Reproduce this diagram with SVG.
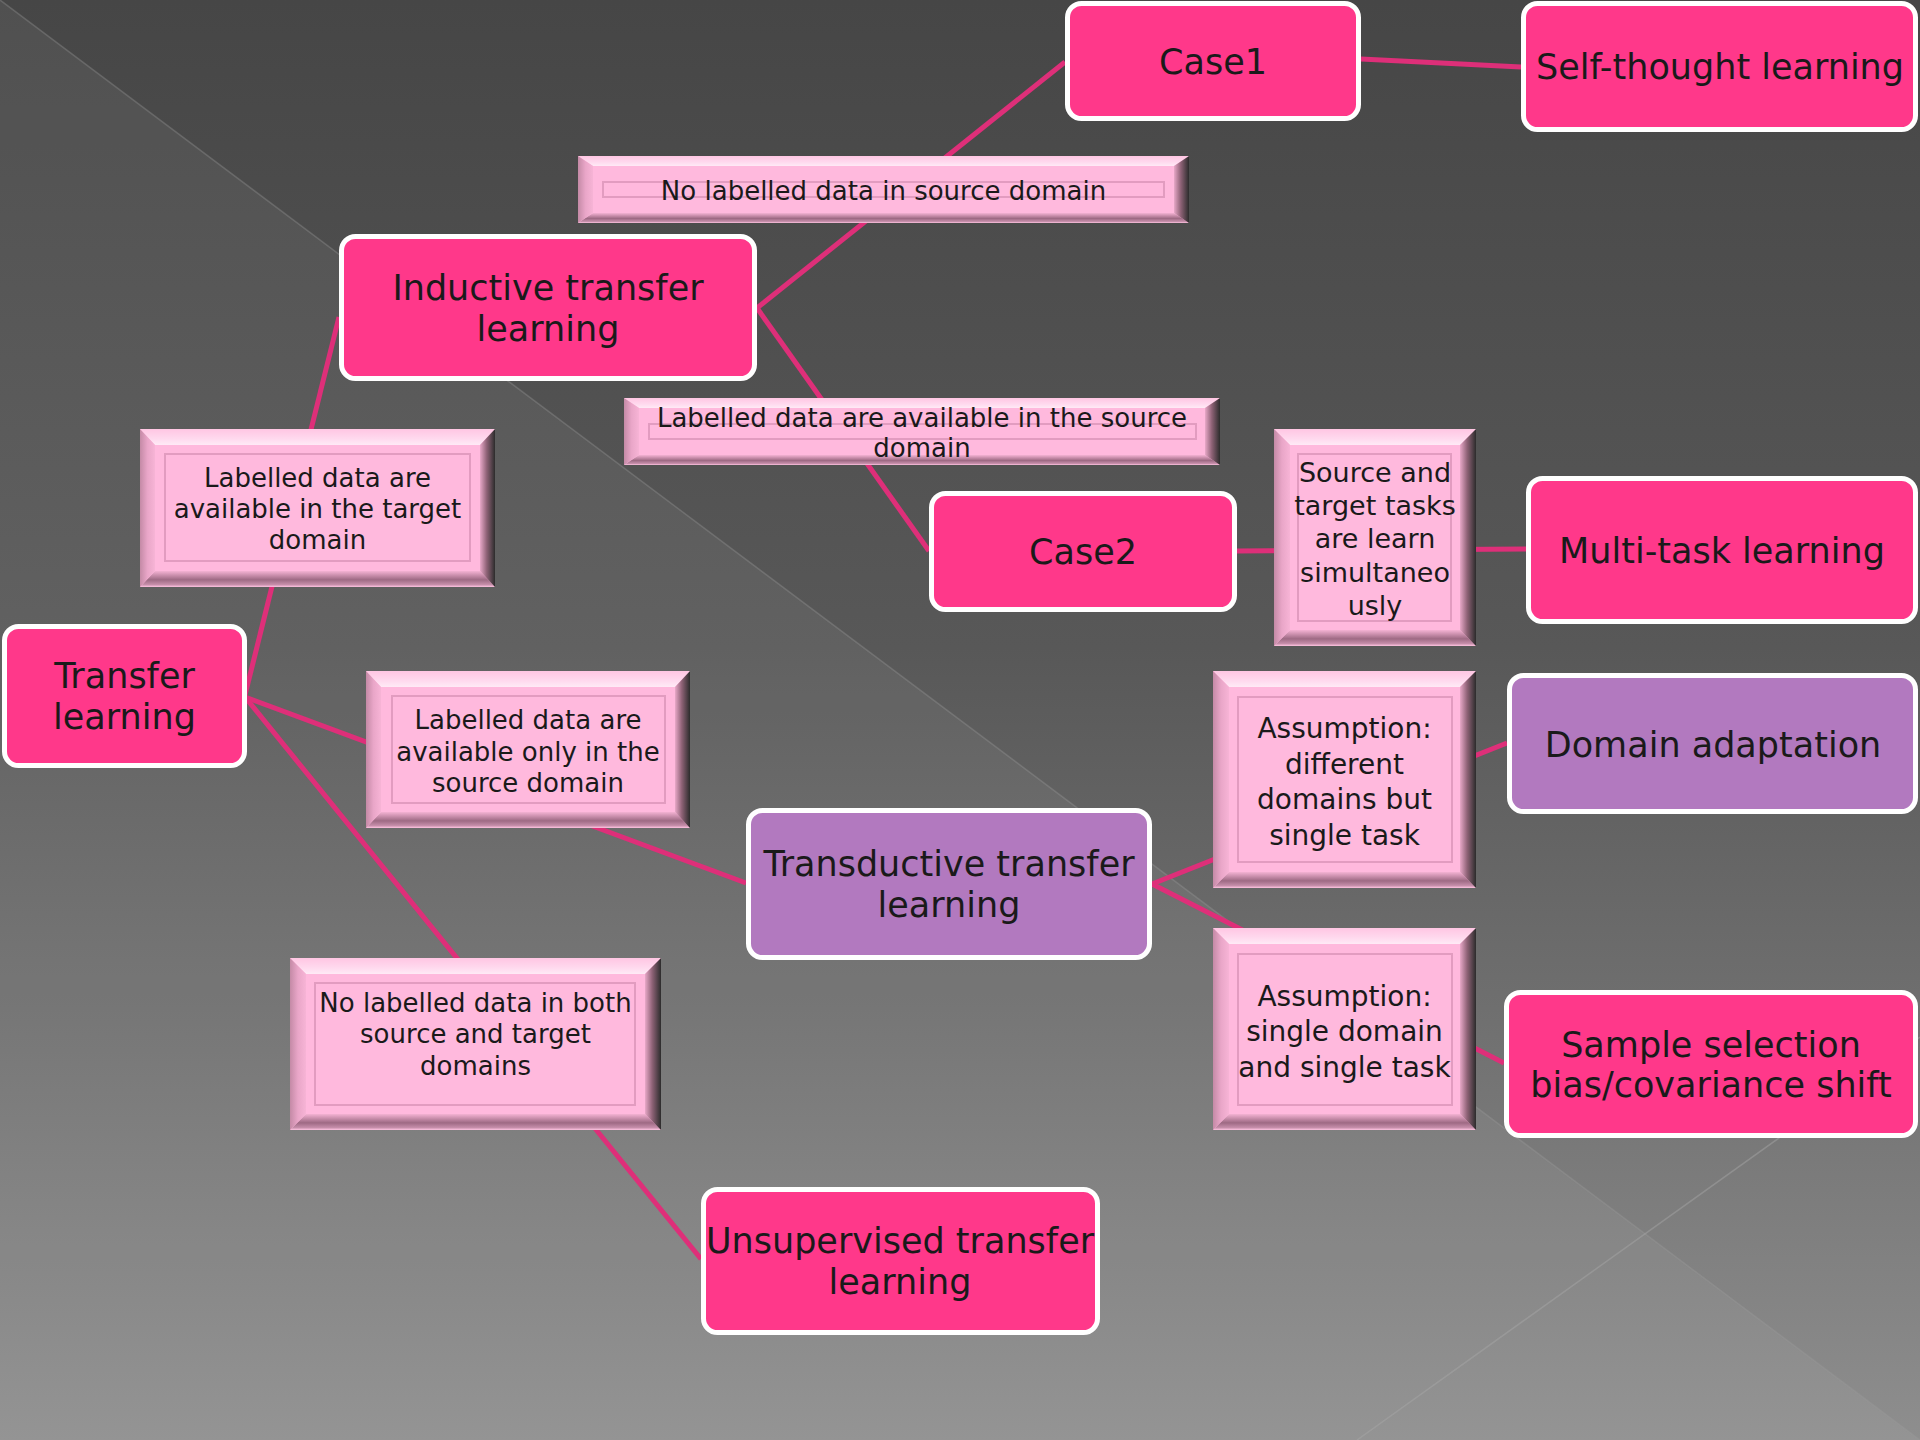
<svg xmlns="http://www.w3.org/2000/svg" width="1920" height="1440" viewBox="0 0 1920 1440">
<defs>
<style>
.conn{stroke:#DE2F79;stroke-width:5;fill:none}
.pink{fill:#FF388A;stroke:#FFFFFF;stroke-width:5}
.purple{fill:#B279BF;stroke:#FFFFFF;stroke-width:5}
.big{font-family:"DejaVu Sans","Liberation Sans",sans-serif;font-size:35px;fill:#1A1A1A;text-anchor:middle}
.lbl{font-family:"DejaVu Sans","Liberation Sans",sans-serif;font-size:26px;fill:#1A1A1A;text-anchor:middle}
.lbl27{font-size:27px}
.lbl28{font-size:28px}
.bfill{fill:#FFB9DD}
.btop{fill:url(#gTop)}
.bbot{fill:url(#gBot)}
.bleft{fill:url(#gLeft)}
.bright{fill:url(#gRight)}
.binner{fill:none;stroke:#E29CC0;stroke-width:2}
</style>
<linearGradient id="bg" x1="0" y1="0" x2="0" y2="1">
<stop offset="0" stop-color="#464646"/>
<stop offset="0.45" stop-color="#585858"/>
<stop offset="0.7" stop-color="#6f6f6f"/>
<stop offset="1" stop-color="#8e8e8e"/>
</linearGradient>
<linearGradient id="gTop" x1="0" y1="0" x2="0" y2="1">
<stop offset="0" stop-color="#FFC6E3"/>
<stop offset="0.6" stop-color="#FFD9EE"/>
<stop offset="1" stop-color="#FFEAF6"/>
</linearGradient>
<linearGradient id="gBot" x1="0" y1="0" x2="0" y2="1">
<stop offset="0" stop-color="#F4B2D3"/>
<stop offset="0.55" stop-color="#9E6A84"/>
<stop offset="0.85" stop-color="#C68EAA"/>
<stop offset="1" stop-color="#FFC4E2"/>
</linearGradient>
<linearGradient id="gLeft" x1="0" y1="0" x2="1" y2="0">
<stop offset="0" stop-color="#C48AA6"/>
<stop offset="0.5" stop-color="#E9A6C8"/>
<stop offset="1" stop-color="#F7B4D6"/>
</linearGradient>
<linearGradient id="gRight" x1="0" y1="0" x2="1" y2="0">
<stop offset="0" stop-color="#E8A8C8"/>
<stop offset="0.45" stop-color="#8E6276"/>
<stop offset="1" stop-color="#2C2C2C"/>
</linearGradient>
</defs>

<g id="background">
<rect x="0" y="0" width="1920" height="1440" fill="url(#bg)"/>
<polygon points="0,0 1920,1440 0,1440" fill="#FFFFFF" fill-opacity="0.055"/>
<line x1="0" y1="0" x2="1920" y2="1440" stroke="#9a9a9a" stroke-opacity="0.35" stroke-width="1.5"/>
<line x1="1357" y1="1440" x2="1920" y2="1037" stroke="#a8a8a8" stroke-opacity="0.45" stroke-width="1.5"/>
</g>

<g id="connectors">
<line class="conn" x1="245" y1="695" x2="339" y2="317"/>
<line class="conn" x1="757" y1="308" x2="1065" y2="62"/>
<line class="conn" x1="757" y1="308" x2="929" y2="551"/>
<line class="conn" x1="1361" y1="59" x2="1521" y2="67"/>
<line class="conn" x1="1237" y1="551" x2="1526" y2="549"/>
<line class="conn" x1="245" y1="697" x2="746" y2="883"/>
<line class="conn" x1="245" y1="697" x2="701" y2="1259"/>
<line class="conn" x1="1152" y1="884" x2="1507" y2="743"/>
<line class="conn" x1="1152" y1="884" x2="1504" y2="1063"/>
</g>

<g id="node-transfer">
<rect class="pink" x="4.5" y="626.5" width="240" height="139" rx="14"/>
<text class="big" x="124.5" y="688">Transfer</text>
<text class="big" x="124.5" y="729">learning</text>
</g>

<g id="node-inductive">
<rect class="pink" x="341.5" y="236.5" width="413" height="142" rx="14"/>
<text class="big" x="548" y="300">Inductive transfer</text>
<text class="big" x="548" y="341">learning</text>
</g>

<g id="node-case1">
<rect class="pink" x="1067.5" y="3.5" width="291" height="115" rx="14"/>
<text class="big" x="1213" y="74">Case1</text>
</g>

<g id="node-selfthought">
<rect class="pink" x="1523.5" y="3.5" width="392" height="126" rx="14"/>
<text class="big" x="1720" y="79">Self-thought learning</text>
</g>

<g id="node-case2">
<rect class="pink" x="931.5" y="493.5" width="303" height="116" rx="14"/>
<text class="big" x="1083" y="564">Case2</text>
</g>

<g id="node-multitask">
<rect class="pink" x="1528.5" y="478.5" width="387" height="143" rx="14"/>
<text class="big" x="1722" y="563">Multi-task learning</text>
</g>

<g id="node-domainadaptation">
<rect class="purple" x="1509.5" y="675.5" width="406" height="136" rx="14"/>
<text class="big" x="1713" y="757">Domain adaptation</text>
</g>

<g id="node-transductive">
<rect class="purple" x="748.5" y="810.5" width="401" height="147" rx="14"/>
<text class="big" x="949" y="876">Transductive transfer</text>
<text class="big" x="949" y="917">learning</text>
</g>

<g id="node-sample">
<rect class="pink" x="1506.5" y="992.5" width="409" height="143" rx="14"/>
<text class="big" x="1711" y="1057">Sample selection</text>
<text class="big" x="1711" y="1097">bias/covariance shift</text>
</g>

<g id="node-unsupervised">
<rect class="pink" x="703.5" y="1189.5" width="394" height="143" rx="14"/>
<text class="big" x="900" y="1253">Unsupervised transfer</text>
<text class="big" x="900" y="1294">learning</text>
</g>

<!-- beveled condition boxes -->
<g id="label-no-labelled-source">
<rect class="bfill" x="578" y="156" width="611" height="67"/>
<polygon class="btop" points="578,156 1189,156 1174,166 593,166"/>
<polygon class="bbot" points="593,213 1174,213 1189,223 578,223"/>
<polygon class="bleft" points="578,156 593,166 593,213 578,223"/>
<polygon class="bright" points="1174,166 1189,156 1189,223 1174,213"/>
<rect class="binner" x="603" y="182" width="561" height="15"/>
<text class="lbl" x="883.5" y="200">No labelled data in source domain</text>
</g>

<g id="label-labelled-source">
<rect class="bfill" x="624" y="398" width="596" height="67"/>
<polygon class="btop" points="624,398 1220,398 1205,408 639,408"/>
<polygon class="bbot" points="639,455 1205,455 1220,465 624,465"/>
<polygon class="bleft" points="624,398 639,408 639,455 624,465"/>
<polygon class="bright" points="1205,408 1220,398 1220,465 1205,455"/>
<rect class="binner" x="649" y="424" width="547" height="15"/>
<text class="lbl" x="922" y="427">Labelled data are available in the source</text>
<text class="lbl" x="922" y="457">domain</text>
</g>

<g id="label-labelled-target">
<rect class="bfill" x="140" y="429" width="355" height="158"/>
<polygon class="btop" points="140,429 495,429 480,445 155,445"/>
<polygon class="bbot" points="155,571 480,571 495,587 140,587"/>
<polygon class="bleft" points="140,429 155,445 155,571 140,587"/>
<polygon class="bright" points="480,445 495,429 495,587 480,571"/>
<rect class="binner" x="165" y="454" width="305" height="107"/>
<text class="lbl" x="317.5" y="487">Labelled data are</text>
<text class="lbl" x="317.5" y="518">available in the target</text>
<text class="lbl" x="317.5" y="549">domain</text>
</g>

<g id="label-simultaneous">
<rect class="bfill" x="1274" y="429" width="202" height="217"/>
<polygon class="btop" points="1274,429 1476,429 1460,445 1290,445"/>
<polygon class="bbot" points="1290,630 1460,630 1476,646 1274,646"/>
<polygon class="bleft" points="1274,429 1290,445 1290,630 1274,646"/>
<polygon class="bright" points="1460,445 1476,429 1476,646 1460,630"/>
<rect class="binner" x="1298" y="454" width="153" height="167"/>
<text class="lbl lbl27" x="1375" y="482">Source and</text>
<text class="lbl lbl27" x="1375" y="515">target tasks</text>
<text class="lbl lbl27" x="1375" y="548">are learn</text>
<text class="lbl lbl27" x="1375" y="582">simultaneo</text>
<text class="lbl lbl27" x="1375" y="615">usly</text>
</g>

<g id="label-labelled-only-source">
<rect class="bfill" x="366" y="671" width="324" height="157"/>
<polygon class="btop" points="366,671 690,671 675,687 381,687"/>
<polygon class="bbot" points="381,812 675,812 690,828 366,828"/>
<polygon class="bleft" points="366,671 381,687 381,812 366,828"/>
<polygon class="bright" points="675,687 690,671 690,828 675,812"/>
<rect class="binner" x="392" y="696" width="273" height="107"/>
<text class="lbl" x="528" y="729">Labelled data are</text>
<text class="lbl" x="528" y="760.5">available only in the</text>
<text class="lbl" x="528" y="792">source domain</text>
</g>

<g id="label-assumption-different">
<rect class="bfill" x="1213" y="671" width="263" height="217"/>
<polygon class="btop" points="1213,671 1476,671 1460,687 1229,687"/>
<polygon class="bbot" points="1229,872 1460,872 1476,888 1213,888"/>
<polygon class="bleft" points="1213,671 1229,687 1229,872 1213,888"/>
<polygon class="bright" points="1460,687 1476,671 1476,888 1460,872"/>
<rect class="binner" x="1238" y="697" width="214" height="165"/>
<text class="lbl lbl28" x="1344.5" y="738">Assumption:</text>
<text class="lbl lbl28" x="1344.5" y="773.5">different</text>
<text class="lbl lbl28" x="1344.5" y="809">domains but</text>
<text class="lbl lbl28" x="1344.5" y="844.5">single task</text>
</g>

<g id="label-assumption-single">
<rect class="bfill" x="1213" y="928" width="263" height="202"/>
<polygon class="btop" points="1213,928 1476,928 1460,944 1229,944"/>
<polygon class="bbot" points="1229,1114 1460,1114 1476,1130 1213,1130"/>
<polygon class="bleft" points="1213,928 1229,944 1229,1114 1213,1130"/>
<polygon class="bright" points="1460,944 1476,928 1476,1130 1460,1114"/>
<rect class="binner" x="1238" y="954" width="214" height="151"/>
<text class="lbl lbl28" x="1344.5" y="1005.5">Assumption:</text>
<text class="lbl lbl28" x="1344.5" y="1041">single domain</text>
<text class="lbl lbl28" x="1344.5" y="1076.5">and single task</text>
</g>

<g id="label-no-labelled-both">
<rect class="bfill" x="290" y="958" width="371" height="172"/>
<polygon class="btop" points="290,958 661,958 645,974 306,974"/>
<polygon class="bbot" points="306,1114 645,1114 661,1130 290,1130"/>
<polygon class="bleft" points="290,958 306,974 306,1114 290,1130"/>
<polygon class="bright" points="645,974 661,958 661,1130 645,1114"/>
<rect class="binner" x="315" y="983" width="320" height="122"/>
<text class="lbl" x="475.5" y="1011.5">No labelled data in both</text>
<text class="lbl" x="475.5" y="1043">source and target</text>
<text class="lbl" x="475.5" y="1074.5">domains</text>
</g>
</svg>
